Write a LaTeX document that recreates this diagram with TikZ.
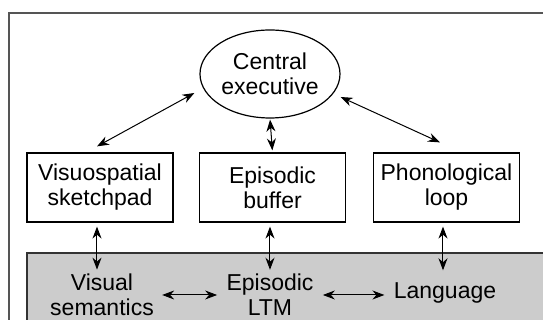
\documentclass[tikz,border=0pt]{standalone}
\usepackage{fontspec}
\setmainfont{Liberation Sans}
\usepackage{tikz}
\usetikzlibrary{arrows.meta,shapes.geometric}
\definecolor{frame}{HTML}{555555}
\definecolor{ltmgray}{HTML}{CCCCCC}
\tikzset{
  module/.style={draw,line width=0.6pt,minimum width=73pt,minimum height=34.5pt,align=center,inner sep=0pt},
  store/.style={align=center,inner sep=2pt},
  biarrow/.style={{Stealth[length=6pt,width=4.5pt]}-{Stealth[length=6pt,width=4.5pt]},line width=0.5pt},
}

\begin{document}
\begin{tikzpicture}[x=0.5pt,y=0.5pt,font=\fontsize{11.5}{12.5}\selectfont]
  \useasboundingbox (0,0) rectangle (543,320);
  \clip (0,0) rectangle (543,320);
  \fill[white] (0,0) rectangle (543,320);
  % outer frame and long-term memory band
  \draw[frame,line width=1pt] (9,307) rectangle (570,-20);
  \draw[fill=ltmgray,line width=0.8pt,draw=black!80] (27,67) rectangle (570,-20);
  % working memory components
  \node[draw,ellipse,line width=0.6pt,minimum width=70pt,minimum height=44pt,inner sep=0pt,align=center] (exec) at (270,246) {Central\\executive};
  \node[module] (vsk) at (100,132.5) {Visuospatial\\sketchpad};
  \node[module] (epb) at (272.5,132.5) {Episodic\\buffer};
  \node[module] (pho) at (446.5,132.5) {Phonological\\loop};
  % long-term stores
  \node[store] (vis) at (102,25) {Visual\\semantics};
  \node[store] (ltm) at (270,25) {Episodic\\LTM};
  \node[store] (lang) at (445,27) {Language};
  % links to the central executive
  \draw[biarrow] ([xshift=-1.5pt,yshift=3pt]vsk.north) -- ([xshift=-2.5pt,yshift=-9.5pt]exec.west);
  \draw[biarrow,shorten <=0.5pt,shorten >=1pt] (exec.south) -- (epb.north);
  \draw[biarrow] ([yshift=-11.5pt]exec.east) -- ([xshift=-3.25pt,yshift=5pt]pho.north);
  % links down to long-term memory
  \draw[biarrow,shorten <=2pt] ([xshift=-1.5pt]vsk.south) -- ([xshift=-2.5pt]vis.north);
  \draw[biarrow,shorten <=2pt] ([xshift=-1.25pt]epb.south) -- (ltm.north);
  \draw[biarrow,shorten <=2pt,shorten >=4pt] ([xshift=-1.75pt]pho.south) -- ([xshift=-1pt]lang.north);
  % links within long-term memory
  \draw[biarrow,shorten <=2pt,shorten >=2.5pt] (vis.east |- ltm) -- (ltm);
  \draw[biarrow,shorten <=2.5pt,shorten >=2.5pt] (ltm) -- (lang.west |- ltm);
\end{tikzpicture}
\end{document}
